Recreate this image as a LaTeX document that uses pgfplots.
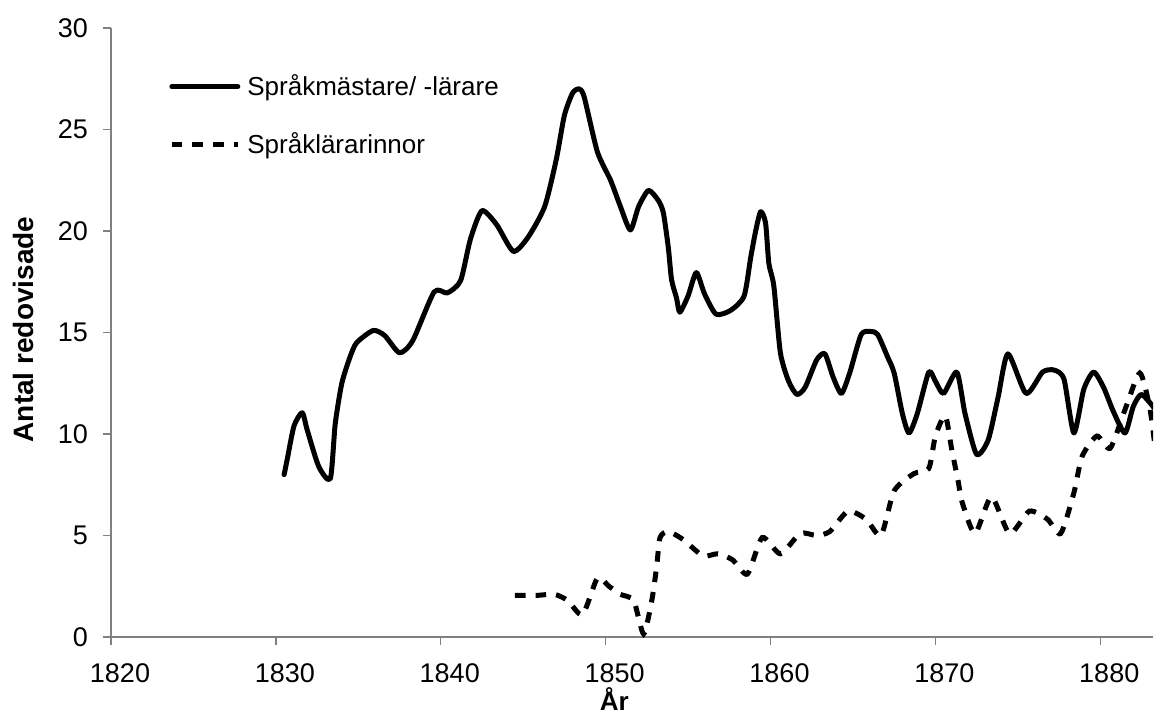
\documentclass[border=0pt]{standalone}
\usepackage{fontspec}
\setmainfont{Liberation Sans}
\usepackage{pgfplots}
\pgfplotsset{compat=1.18}
\definecolor{axgray}{RGB}{128,128,128}
\begin{document}
\begin{tikzpicture}
\useasboundingbox (0pt,0pt) rectangle (577pt,357pt);
\begin{axis}[
  at={(55.5pt,38.5pt)}, anchor=south west,
  scale only axis, width=521pt, height=304.5pt,
  xmin=1820, xmax=1883.2, ymin=0, ymax=30,
  axis x line=bottom, axis y line=left,
  axis line style={axgray, line width=0.7pt, -},
  tick align=outside, major tick length=4pt,
  tick style={axgray, line width=0.7pt},
  xtick={1820,1830,...,1880}, ytick={0,5,...,30},
  /pgf/number format/assume math mode=true,
  /pgf/number format/1000 sep={},
  xticklabel style={font=\fontsize{13.5}{16}\selectfont, anchor=north, inner sep=1pt, yshift=-8.3pt, xshift=4.5pt},
  yticklabel style={font=\fontsize{13.5}{16}\selectfont, anchor=east, xshift=-4pt},
  xlabel={År}, ylabel={Antal redovisade},
  xlabel style={font=\bfseries\fontsize{13}{15}\selectfont, at={(axis description cs:0.483,0)}, anchor=base, inner sep=0pt, yshift=-36.6pt},
  ylabel style={font=\bfseries\fontsize{14}{16}\selectfont, at={(axis description cs:-0.0943,0.505)}, anchor=north, inner sep=0pt},
  clip=true,
  legend style={draw=none, fill=none, at={(axis description cs:0.0556,0.929)}, anchor=north west,
    font=\fontsize{13}{15}\selectfont, row sep=14pt, column sep=2pt, inner sep=0pt,
    nodes={inner sep=1.5pt}},
  legend cell align=left,
  legend image code/.code={\draw[#1] (0pt,0pt) -- (33pt,0pt);},
]
\addplot[black, line width=2.5pt, smooth, tension=0.4, line cap=round, line join=round] coordinates {
(1830.5,8.0) (1830.7,8.8) (1831.1,10.4) (1831.6,11.05) (1831.9,10.2) (1832.6,8.4)
(1833.3,7.8) (1833.6,10.5) (1834.0,12.5) (1834.5,13.8) (1834.9,14.5) (1835.9,15.1)
(1836.6,14.85) (1837.5,14.0) (1838.3,14.6) (1839.6,17.0) (1840.4,16.95) (1841.2,17.55)
(1841.8,19.6) (1842.5,21.0) (1843.4,20.3) (1844.4,19.0) (1845.3,19.7) (1846.3,21.2)
(1847.0,23.5) (1847.5,25.7) (1848.0,26.8) (1848.4,27.0) (1848.7,26.6) (1849.5,23.9)
(1850.3,22.5) (1850.9,21.2) (1851.5,20.05) (1852.0,21.2) (1852.6,22.0) (1853.2,21.5)
(1853.5,20.9) (1853.8,19.2) (1854.0,17.6) (1854.3,16.7) (1854.5,16.0) (1855.0,16.8)
(1855.5,17.95) (1856.0,16.9) (1856.7,15.9) (1857.6,16.1) (1858.4,16.8) (1858.8,18.7)
(1859.1,20.0) (1859.4,20.95) (1859.7,20.4) (1859.9,18.4) (1860.2,17.3) (1860.6,14.0)
(1861.1,12.6) (1861.6,11.95) (1862.1,12.3) (1862.8,13.65) (1863.3,13.95) (1863.8,12.8)
(1864.3,12.0) (1864.8,13.0) (1865.5,14.9) (1866.1,15.05) (1866.5,14.9) (1867.1,13.8)
(1867.5,13.0) (1868.0,11.0) (1868.4,10.05) (1868.9,11.0) (1869.6,13.05) (1870.0,12.6)
(1870.5,12.0) (1871.3,13.05) (1871.8,11.0) (1872.5,9.0) (1873.2,9.7) (1873.8,11.8)
(1874.4,13.95) (1875.5,12.0) (1876.5,13.05) (1877.2,13.15) (1877.8,12.7) (1878.4,10.05)
(1879.0,12.2) (1879.6,13.05) (1880.2,12.3) (1880.8,11.1) (1881.5,10.05) (1882.0,11.35)
(1882.5,11.95) (1883.25,11.3)
};
\addlegendentry{Språkmästare/ -lärare}
\addplot[black, line width=2.5pt, smooth, tension=0.4, dash pattern=on 5.3pt off 5pt] coordinates {
(1844.5,2.05) (1845.8,2.05) (1846.9,2.1) (1847.7,1.8) (1848.6,1.1) (1849.5,2.9)
(1850.2,2.5) (1850.9,2.1) (1851.7,1.8) (1852.3,0.15) (1852.8,1.8) (1853.1,3.5)
(1853.3,4.9) (1853.8,5.2) (1854.7,4.8) (1855.9,4.0) (1856.8,4.1) (1857.7,3.8)
(1858.6,3.1) (1859.5,4.9) (1860.6,4.1) (1861.8,5.1) (1862.8,5.0) (1863.6,5.2)
(1864.7,6.2) (1865.8,5.8) (1866.7,5.0) (1867.5,7.2) (1868.7,8.05) (1869.6,8.3)
(1870.0,9.9) (1870.6,10.9) (1871.0,9.2) (1871.4,7.6) (1871.6,6.7) (1872.4,5.1)
(1873.4,6.9) (1874.5,5.1) (1875.7,6.2) (1876.8,5.8) (1877.6,5.1) (1878.4,7.1)
(1878.9,8.9) (1879.8,9.9) (1880.6,9.3) (1881.5,11.2) (1882.4,13.0) (1883.0,11.3)
(1883.3,9.5)
};
\addlegendentry{Språklärarinnor}
\end{axis}
\end{tikzpicture}
\end{document}
